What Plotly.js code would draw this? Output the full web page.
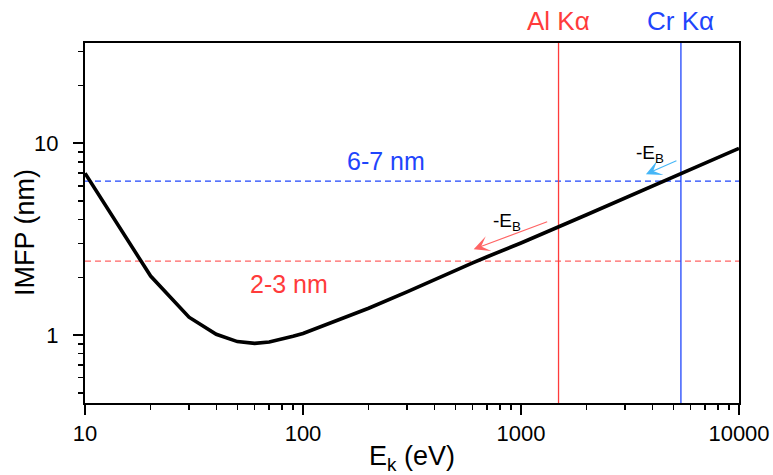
<!DOCTYPE html>
<html>
<head>
<meta charset="utf-8">
<script src="https://cdn.plot.ly/plotly-3.0.1.min.js"></script>
<style>
  html, body { margin: 0; padding: 0; background: #fff; }
  #chart { width: 773px; height: 475px; }
</style>
</head>
<body>
<div id="chart"></div>
<script>
// Universal curve: inelastic mean free path of electrons vs kinetic energy
const energy = [10, 20, 30, 40, 50, 60, 70, 80, 90, 100,
                200, 300, 400, 500, 600, 700, 800, 900, 1000,
                2000, 3000, 4000, 5000, 6000, 7000, 8000, 9000, 10000];
const imfp = [6.98, 2.03, 1.24, 1.01, 0.925, 0.905, 0.92, 0.95, 0.985, 1.02,
              1.38, 1.68, 1.95, 2.18, 2.38, 2.56, 2.72, 2.87, 3.02,
              4.24, 5.18, 5.96, 6.65, 7.28, 7.85, 8.39, 8.9, 9.4];

// X-ray source photon energies (eV)
const sourceNames = ['Al K\u03b1', 'Cr K\u03b1'];
const sourceEnergy = [1486.6, 5414.7];

// Typical information depths (nm)
const depthLabels = ['2-3 nm', '6-7 nm'];
const depthValues = [2.43, 6.35];

const xTickRange = [10, 10000];
const yRangeLog = [-0.354, 1.5225];

const RED = '#ff3b3b';
const RED_LIGHT = '#ff6464';
const BLUE = '#1f45fc';
const SKY = '#45b6f7';
const FONT = 'Arial, "Liberation Sans", Helvetica, sans-serif';

const yLow = Math.pow(10, yRangeLog[0]);
const yHigh = Math.pow(10, yRangeLog[1]);

const traces = [
  // depth guides
  {x: xTickRange, y: [depthValues[0], depthValues[0]], mode: 'lines',
   line: {color: RED_LIGHT, width: 1.3, dash: '6px,4px'}, hoverinfo: 'skip'},
  {x: xTickRange, y: [depthValues[1], depthValues[1]], mode: 'lines',
   line: {color: BLUE, width: 1.3, dash: '6px,4px'}, hoverinfo: 'skip'},
  // photon energy markers
  {x: [sourceEnergy[0], sourceEnergy[0]], y: [yLow, yHigh], mode: 'lines',
   line: {color: RED, width: 1.3}, hoverinfo: 'skip'},
  {x: [sourceEnergy[1], sourceEnergy[1]], y: [yLow, yHigh], mode: 'lines',
   line: {color: BLUE, width: 1.3}, hoverinfo: 'skip'},
  // IMFP curve, on the twin axis so it sits above the guides
  {x: energy, y: imfp, yaxis: 'y2', mode: 'lines', line: {color: '#000', width: 3.6}}
];

const lg = Math.log10;

const annotations = [
  {xref: 'x', yref: 'paper', x: lg(sourceEnergy[0]), y: 1.061, text: sourceNames[0],
   showarrow: false, xanchor: 'center', yanchor: 'middle', font: {size: 26, color: RED}},
  {xref: 'x', yref: 'paper', x: lg(sourceEnergy[1]), y: 1.061, text: sourceNames[1],
   showarrow: false, xanchor: 'center', yanchor: 'middle', font: {size: 26, color: BLUE}},
  {xref: 'x', yref: 'y', x: 2.381, y: 0.9075, text: depthLabels[1],
   showarrow: false, xanchor: 'center', yanchor: 'middle', font: {size: 25, color: BLUE}},
  {xref: 'x', yref: 'y', x: 1.936, y: 0.265, text: depthLabels[0],
   showarrow: false, xanchor: 'center', yanchor: 'middle', font: {size: 25, color: RED}},
  // binding-energy shift arrows
  {xref: 'x', yref: 'y', x: 2.783, y: 0.448, ax: 75, ay: -28, axref: 'pixel', ayref: 'pixel',
   text: '', showarrow: true, arrowhead: 3, arrowsize: 2.4, arrowwidth: 1.1, arrowcolor: RED_LIGHT},
  {xref: 'x', yref: 'y', x: 3.573, y: 0.839, ax: 32, ay: -14, axref: 'pixel', ayref: 'pixel',
   text: '', showarrow: true, arrowhead: 3, arrowsize: 2.4, arrowwidth: 1.1, arrowcolor: SKY},
  {xref: 'x', yref: 'y', x: 2.937, y: 0.59, text: '-E<sub>B</sub>',
   showarrow: false, xanchor: 'center', yanchor: 'middle', font: {size: 19, color: '#000'}},
  {xref: 'x', yref: 'y', x: 3.594, y: 0.944, text: '-E<sub>B</sub>',
   showarrow: false, xanchor: 'center', yanchor: 'middle', font: {size: 19, color: '#000'}},
  // y-axis title
  {xref: 'paper', yref: 'paper', x: -0.0917, y: 0.472, text: 'IMFP (nm)', textangle: -90,
   showarrow: false, xanchor: 'center', yanchor: 'middle', font: {size: 27, color: '#000'}}
];

const axisCommon = {
  type: 'log', dtick: 1, tickformat: 'd',
  showline: true, linewidth: 2, linecolor: '#000', mirror: true,
  ticks: 'outside', ticklen: 10, tickwidth: 1.5, tickcolor: '#000',
  minor: {ticks: 'outside', ticklen: 5, tickwidth: 1.5, tickcolor: '#000', dtick: 'D1', showgrid: false},
  showgrid: false, zeroline: false,
  tickfont: {size: 22, color: '#000'}
};

const layout = {
  width: 773, height: 475,
  margin: {l: 85, r: 34, t: 43, b: 72},
  paper_bgcolor: '#fff', plot_bgcolor: '#fff',
  showlegend: false,
  font: {family: FONT, color: '#000'},
  xaxis: Object.assign({}, axisCommon, {
    range: [1, 4],
    title: {text: 'E<sub>k</sub> (eV)', font: {size: 27, color: '#000'}, standoff: 4}
  }),
  yaxis: Object.assign({}, axisCommon, {
    range: yRangeLog,
    showticklabels: false
  }),
  // twin of the y axis carrying the decade labels, set further out from the plot edge
  yaxis2: {
    type: 'log', dtick: 1, tickformat: 'd', range: yRangeLog,
    overlaying: 'y', side: 'left', anchor: 'x',
    showline: false, showgrid: false, zeroline: false,
    ticks: 'outside', ticklen: 21, tickcolor: 'rgba(0,0,0,0)',
    tickfont: {size: 22, color: '#000'}
  },
  annotations: annotations
};

Plotly.newPlot('chart', traces, layout, {staticPlot: true, displayModeBar: false});
</script>
</body>
</html>
